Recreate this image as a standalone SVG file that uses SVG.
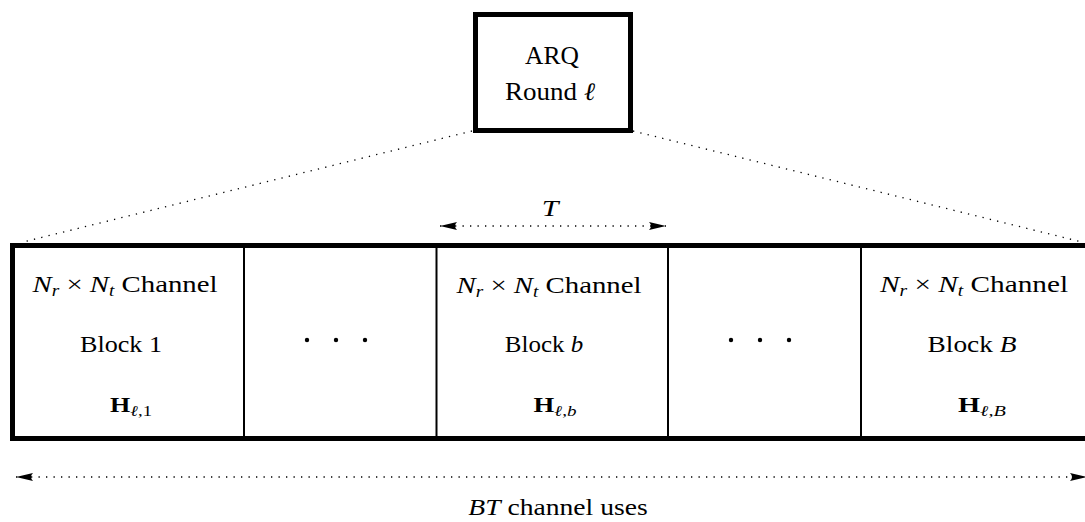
<svg xmlns="http://www.w3.org/2000/svg" width="1085" height="522" viewBox="0 0 1085 522">
<style>
text{font-family:"Liberation Serif","Times New Roman",serif;font-size:24px;fill:#000;text-anchor:middle}
.it{font-style:italic}
.sub{font-size:16px;font-style:italic}
.h{font-size:21px;font-weight:bold}
.hs{font-size:15px;font-style:italic}
.up{font-style:normal}
.thick{fill:none;stroke:#000;stroke-width:5}
.thin{fill:none;stroke:#000;stroke-width:2}
.dot{fill:none;stroke:#000;stroke-width:1.3;stroke-dasharray:1.3 6.2}
</style>
<defs>
<marker id="ah" markerUnits="userSpaceOnUse" markerWidth="20" markerHeight="10" refX="17" refY="4.5" orient="auto-start-reverse">
<path d="M0,0.5 Q4,4.5 0,8.5 L17,4.5 Z" fill="#000"/>
</marker>
</defs>
<g id="connectors">
<line class="dot" x1="472" y1="131" x2="21" y2="242.5"/>
<line class="dot" x1="633" y1="131" x2="1084" y2="242.5"/>
<line class="dot" x1="440" y1="226" x2="666" y2="226" marker-start="url(#ah)" marker-end="url(#ah)"/>
<line class="dot" x1="16" y1="477" x2="1087" y2="477" marker-start="url(#ah)" marker-end="url(#ah)"/>
</g>
<g id="arq">
<rect class="thick" x="475.5" y="14.5" width="155" height="116"/>
<text transform="translate(552,64) scale(1.02,1)" style="font-size:25px">ARQ</text>
<text transform="translate(550,100) scale(1.08,1)" style="font-size:25px">Round <tspan class="it">ℓ</tspan></text>
</g>
<g id="T-label"><text class="it" transform="translate(550,216) scale(1.25,1)">T</text></g>
<g id="frame">
<rect class="thick" x="12.5" y="245.5" width="1076" height="193"/>
<line class="thin" x1="244" y1="245" x2="244" y2="439"/>
<line class="thin" x1="436.5" y1="245" x2="436.5" y2="439"/>
<line class="thin" x1="668" y1="245" x2="668" y2="439"/>
<line class="thin" x1="861" y1="245" x2="861" y2="439"/>
</g>
<g id="block1">
<text transform="translate(125,292) scale(1.2,1)"><tspan class="it">N</tspan><tspan class="sub" dy="4">r</tspan><tspan dy="-4"> × </tspan><tspan class="it">N</tspan><tspan class="sub" dy="4">t</tspan><tspan dy="-4"> Channel</tspan></text>
<text transform="translate(121,352) scale(1.09,1)">Block 1</text>
<text transform="translate(131,412) scale(1.24,1)"><tspan class="h">H</tspan><tspan class="hs" dy="4">ℓ</tspan><tspan class="hs up">,1</tspan></text>
</g>
<g id="dots1">
<circle cx="307" cy="340" r="2.2"/><circle cx="336" cy="340" r="2.2"/><circle cx="365" cy="340" r="2.2"/>
</g>
<g id="blockb">
<text transform="translate(549,293) scale(1.2,1)"><tspan class="it">N</tspan><tspan class="sub" dy="4">r</tspan><tspan dy="-4"> × </tspan><tspan class="it">N</tspan><tspan class="sub" dy="4">t</tspan><tspan dy="-4"> Channel</tspan></text>
<text transform="translate(544,352) scale(1.04,1)">Block <tspan class="it">b</tspan></text>
<text transform="translate(555,412) scale(1.27,1)"><tspan class="h">H</tspan><tspan class="hs" dy="4">ℓ</tspan><tspan class="hs up">,</tspan><tspan class="hs">b</tspan></text>
</g>
<g id="dots2">
<circle cx="731" cy="340" r="2.2"/><circle cx="760" cy="340" r="2.2"/><circle cx="789" cy="340" r="2.2"/>
</g>
<g id="blockB">
<text transform="translate(974,292) scale(1.22,1)"><tspan class="it">N</tspan><tspan class="sub" dy="4">r</tspan><tspan dy="-4"> × </tspan><tspan class="it">N</tspan><tspan class="sub" dy="4">t</tspan><tspan dy="-4"> Channel</tspan></text>
<text transform="translate(972,352) scale(1.14,1)">Block <tspan class="it">B</tspan></text>
<text transform="translate(982,412) scale(1.35,1)"><tspan class="h">H</tspan><tspan class="hs" dy="4">ℓ</tspan><tspan class="hs up">,</tspan><tspan class="hs">B</tspan></text>
</g>
<g id="bottom-label">
<text transform="translate(558,515) scale(1.15,1)"><tspan class="it">BT</tspan> channel uses</text>
</g>
</svg>
